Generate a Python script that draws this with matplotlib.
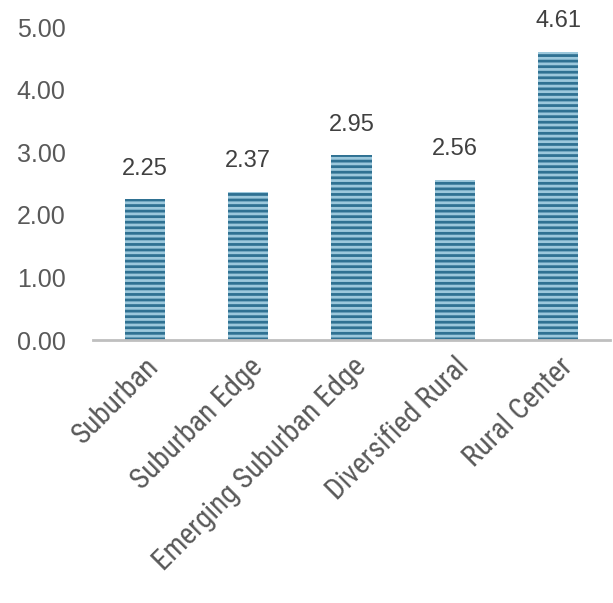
import matplotlib
matplotlib.use("Agg")
import matplotlib.pyplot as plt

categories = ["Suburban", "Suburban Edge", "Emerging Suburban Edge", "Diversified Rural", "Rural Center"]
values = [2.25, 2.37, 2.95, 2.56, 4.61]
yticks = [0, 1, 2, 3, 4, 5]

plt.rcParams['font.family'] = ['Liberation Sans', 'DejaVu Sans']
plt.rcParams['hatch.linewidth'] = 2.0
plt.rcParams['hatch.color'] = '#9cc8dc'

fig = plt.figure(figsize=(6.13, 6.03), dpi=100)
ax = fig.add_axes([0.152, 0.436, 0.843, 0.519])
x = range(len(categories))
bars = ax.bar(x, values, width=0.39, color='#2f7192', edgecolor='#9cc8dc', hatch='---', linewidth=0)
for xi, v in zip(x, values):
    ax.annotate(f"{v:.2f}", (xi, v), xytext=(0, 14), textcoords='offset points',
                ha='center', va='bottom', fontsize=17, color='#404040')
ax.set_xlim(-0.5, len(categories) - 0.5)
ax.set_ylim(0, 5)
ax.set_yticks(yticks)
ax.set_yticklabels([f"{t:.2f}" for t in yticks], fontsize=18, color='#595959')
ax.set_xticks(list(x))
ax.set_xticklabels(categories, rotation=45, ha='right', rotation_mode='anchor', fontsize=21,
                   color='#595959', fontweight='normal',
                   family=['Roboto Condensed', 'Liberation Sans', 'DejaVu Sans'])
ax.tick_params(axis='both', length=0)
ax.tick_params(axis='x', pad=9)
ax.tick_params(axis='y', pad=20)
for s in ['top', 'right', 'left']:
    ax.spines[s].set_visible(False)
ax.spines['bottom'].set_color('#bfbfbf')
ax.spines['bottom'].set_linewidth(2)
fig.savefig("out.png", dpi=100)
